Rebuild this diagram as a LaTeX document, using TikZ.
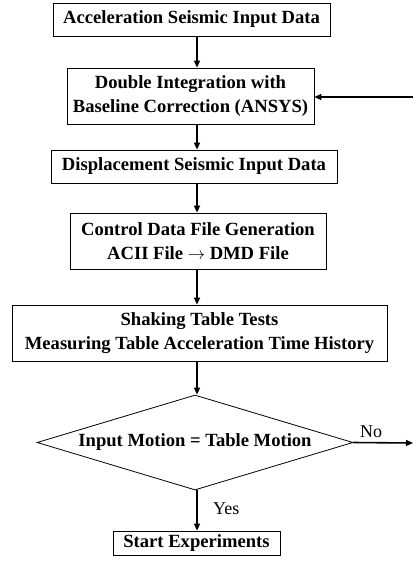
\documentclass[tikz,border=0pt]{standalone}
\usepackage{fontspec}
\setmainfont{Liberation Serif}
\usetikzlibrary{shapes.geometric,arrows.meta}
\begin{document}
\begin{tikzpicture}[x=1pt,y=-1pt,
  boxnode/.style={draw,line width=0.8pt,inner sep=0pt,align=center,font=\fontsize{18.6}{24}\selectfont\bfseries},
  arr/.style={line width=1.6pt,-{Triangle[length=7pt,width=6pt]}},
  lbl/.style={font=\fontsize{18}{20}\selectfont,inner sep=0pt}]
\useasboundingbox[fill=white] (0,0) rectangle (413,565);
\coordinate (ax) at (197,0);
\node[boxnode,minimum width=277pt,minimum height=33pt] (b1) at (191.5,19.5) {Acceleration Seismic Input Data};
\node[boxnode,minimum width=247pt,minimum height=56pt] (b2) at (190.5,96) {Double Integration with\\Baseline Correction (ANSYS)};
\node[boxnode,minimum width=286pt,minimum height=33pt] (b3) at (194,166.5) {Displacement Seismic Input Data};
\node[boxnode,minimum width=256pt,minimum height=56pt] (b4) at (198,241) {Control Data File Generation\\ACII File $\rightarrow$ DMD File};
\node[boxnode,minimum width=375pt,minimum height=56pt] (b5) at (199.5,333) {Shaking Table Tests\\Measuring Table Acceleration Time History};
\node[diamond,draw,line width=0.8pt,inner sep=0pt,aspect=3.33,minimum width=316pt,minimum height=95pt,font=\fontsize{18.6}{22}\selectfont\bfseries] (d) at (195,442.5) {Input Motion = Table Motion};
\node[boxnode,minimum width=167pt,minimum height=24pt] (b6) at (196.5,543) {Start Experiments};
\coordinate (eR) at (413,443);
\coordinate (eT) at (413,97);
\draw[arr] (b1.south -| ax) -- (b2.north -| ax);
\draw[arr] (b2.south -| ax) -- (b3.north -| ax);
\draw[arr] (b3.south -| ax) -- (b4.north -| ax);
\draw[arr] (b4.south -| ax) -- (b5.north -| ax);
\draw[arr] (b5.south -| ax) -- (d.north -| ax);
\draw[arr] (d.south -| ax) -- (b6.north -| ax);
\draw[arr] (d.east) -- (eR);
\draw[arr] (eT) -- (b2.east |- eT);
\node[lbl,anchor=west] (no) at (360,432) {No};
\node[lbl,anchor=west] (yes) at (213,509) {Yes};
\end{tikzpicture}
\end{document}
